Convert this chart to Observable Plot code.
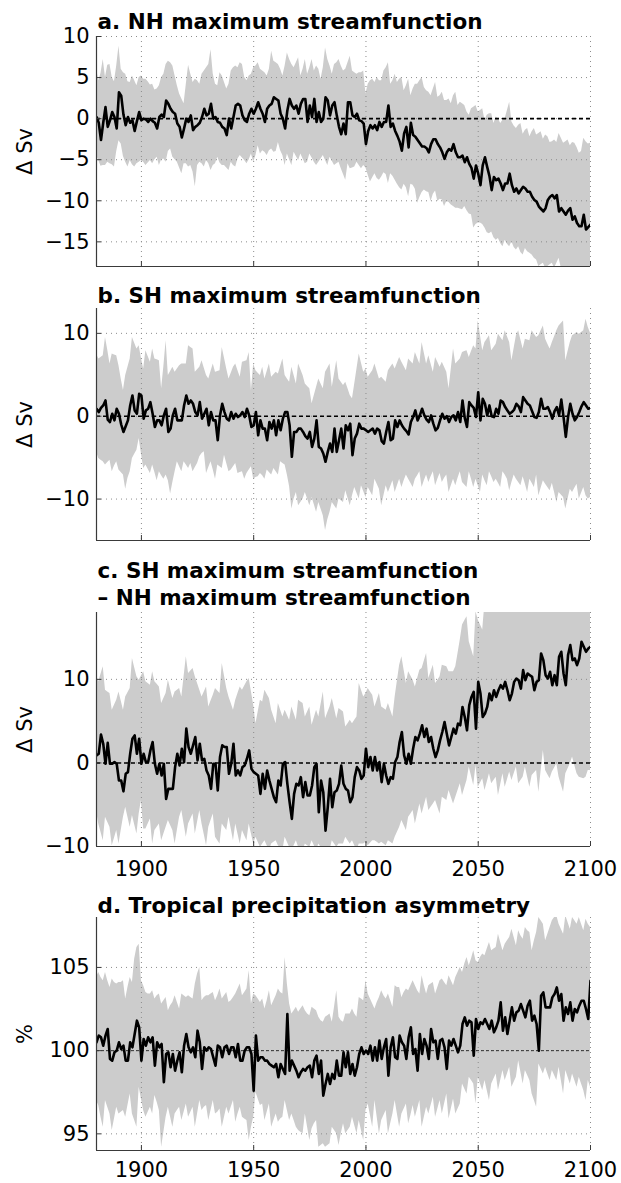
<!DOCTYPE html>
<html>
<head>
<meta charset="utf-8">
<script src="https://cdn.jsdelivr.net/npm/d3@7"></script>
<script src="https://cdn.jsdelivr.net/npm/@observablehq/plot@0.6"></script>
<style>
  body { margin: 0; background: #fff; }
  #chart { position: relative; width: 621px; height: 1183px; background: #fff; overflow: hidden; }
  #chart svg { position: absolute; left: 0; }
</style>
</head>
<body>
<div id="chart"></div>
<script>
const years = d3.range(1880, 2101);
const xTicks = [1900, 1950, 2000, 2050, 2100];

// a. NH maximum streamfunction (ΔSv)
const aLine = [
0.2,-0.5,-2.6,-0.5,1.4,-1.0,-0.2,0.8,0.2,-1.2,
3.2,2.8,0.5,-0.8,0.2,-0.5,-0.2,-1.5,-0.3,0.8,
-0.2,0.0,-0.1,-0.4,0.0,-0.3,-0.5,-1.2,0.2,0.5,
0.2,2.2,1.8,1.2,0.8,0.6,-0.6,-1.0,-2.3,-1.2,
0.0,-0.4,0.4,-1.4,-1.0,-0.8,-0.5,0.2,1.2,0.4,
0.6,1.8,0.0,0.2,-0.4,-0.5,-1.0,-1.2,-2.0,0.0,
-1.2,0.2,1.6,1.8,1.6,0.4,-0.2,-0.4,0.6,1.2,
0.6,1.2,2.0,1.2,0.6,-0.4,1.2,1.6,1.8,2.6,
2.4,2.2,0.6,0.0,-1.2,1.0,2.4,1.6,1.2,1.6,
0.6,1.8,2.4,2.4,-0.4,1.6,0.2,2.4,-0.4,0.8,
-0.4,0.0,2.6,2.2,0.4,1.6,2.0,0.4,-1.0,-1.9,
-0.6,-1.9,2.0,2.0,0.4,0.2,0.6,-0.2,-0.3,-0.6,
-3.1,-1.5,-0.8,-1.2,-0.8,-1.4,-0.4,-1.0,-0.4,-0.4,
1.6,-1.0,-0.6,-1.5,-2.1,-2.8,-3.9,-1.8,-1.0,-3.5,
-0.5,-2.0,-2.2,-2.6,-3.0,-3.4,-3.4,-3.6,-4.1,-3.1,
-2.5,-2.5,-3.1,-3.5,-4.1,-4.9,-4.1,-3.7,-3.9,-3.1,
-4.1,-4.7,-4.7,-4.5,-5.3,-4.7,-5.5,-6.0,-7.3,-5.7,
-6.7,-8.1,-5.7,-4.7,-5.9,-7.0,-8.7,-7.1,-7.5,-7.3,
-7.9,-8.7,-7.9,-7.9,-6.7,-8.1,-8.9,-8.5,-9.1,-8.7,
-8.3,-8.5,-8.9,-8.9,-9.5,-9.9,-10.1,-10.7,-11.0,-11.3,
-10.9,-9.9,-9.5,-9.3,-9.7,-9.3,-11.3,-10.9,-11.3,-11.7,
-11.2,-10.9,-12.3,-11.9,-12.7,-13.1,-13.1,-11.7,-13.5,-13.2,
-12.9];
const aHi = [
6.2,4.6,5.5,7.2,5.0,6.5,6.6,5.0,4.5,6.4,
8.8,6.0,5.6,5.4,4.5,4.4,5.2,4.6,4.0,5.0,
5.2,4.8,4.8,4.5,4.1,4.2,3.5,3.6,4.0,5.0,
5.4,6.6,7.0,6.8,6.4,5.2,4.0,3.0,2.4,1.8,
4.2,6.5,5.4,4.4,4.8,4.6,4.2,5.4,5.8,6.2,
6.6,8.4,5.4,4.2,4.0,5.6,5.2,4.4,3.6,4.2,
5.8,6.2,6.4,6.2,6.8,6.6,5.0,4.6,5.2,5.4,
6.2,6.4,6.8,6.0,5.8,5.6,5.2,6.0,8.2,7.0,
6.8,6.6,6.0,5.2,6.4,8.0,7.2,6.6,6.2,6.8,
7.4,5.2,6.0,7.2,5.4,6.2,7.2,5.8,6.4,6.0,
4.8,6.2,8.6,7.2,6.4,5.4,6.6,6.8,7.2,6.4,
5.8,6.0,6.8,7.6,5.8,5.6,5.4,5.6,5.6,5.8,
3.0,4.2,4.6,4.8,4.4,5.0,4.6,4.6,5.8,6.2,
6.8,4.2,4.6,5.4,4.4,4.8,5.0,3.4,4.0,4.8,
2.8,3.6,4.2,4.2,4.6,5.0,3.8,3.4,3.2,2.8,
3.6,4.4,2.6,2.8,3.2,2.2,2.2,2.4,1.8,2.8,
3.2,1.6,2.0,1.8,1.6,0.8,0.4,1.2,1.4,1.6,
0.8,1.0,1.2,-0.2,0.4,0.6,0.6,-0.6,0.2,0.0,
-0.6,-0.2,0.0,1.0,2.0,-0.4,-0.9,-1.2,-0.8,-0.6,
-1.9,-1.4,-1.2,-2.2,-1.6,-1.2,-2.0,-1.8,-1.6,-2.5,
-2.0,-2.2,-2.9,-2.8,-2.6,-2.9,-1.8,-2.4,-3.0,-2.8,
-2.6,-3.3,-2.9,-3.0,-3.5,-4.2,-4.0,-2.4,-2.8,-3.1,
-3.0];
const aLo = [
-4.5,-5.1,-5.8,-5.7,-5.7,-5.3,-5.5,-5.6,-5.9,-4.0,
-2.7,-3.1,-4.6,-5.3,-5.9,-5.1,-5.6,-5.9,-5.5,-5.3,
-5.1,-5.3,-5.7,-5.4,-5.1,-5.5,-5.0,-4.7,-5.7,-5.0,
-4.9,-5.3,-4.0,-3.7,-4.7,-5.0,-5.3,-6.0,-6.7,-5.5,
-5.5,-5.9,-5.7,-6.5,-8.3,-5.7,-5.3,-5.5,-5.9,-5.1,
-5.5,-6.3,-5.7,-5.5,-4.7,-5.4,-5.7,-5.7,-6.0,-6.3,
-5.3,-5.7,-5.9,-4.9,-4.5,-4.8,-5.1,-5.5,-5.0,-4.3,
-5.3,-4.5,-3.3,-4.3,-3.9,-4.1,-4.5,-3.9,-3.7,-4.1,
-4.0,-2.9,-3.9,-4.5,-5.7,-4.3,-5.0,-5.7,-4.1,-4.6,
-5.1,-4.3,-4.9,-5.5,-5.3,-4.3,-4.8,-5.3,-5.7,-5.3,
-4.9,-4.5,-5.1,-5.7,-4.7,-5.2,-5.7,-5.5,-5.3,-6.1,
-6.8,-7.5,-5.5,-6.1,-6.0,-5.9,-5.3,-5.7,-6.1,-5.7,
-6.0,-6.9,-7.7,-7.2,-6.7,-7.3,-7.5,-7.1,-6.6,-6.8,
-7.9,-6.7,-7.0,-7.5,-8.0,-8.4,-8.7,-8.0,-8.4,-9.5,
-8.0,-8.1,-8.6,-10.3,-9.6,-9.0,-8.7,-8.9,-9.0,-10.1,
-9.2,-8.8,-10.1,-9.8,-9.9,-10.7,-10.1,-10.2,-10.5,-10.7,
-10.9,-10.9,-11.0,-11.1,-10.7,-11.2,-11.6,-11.7,-13.3,-12.9,
-12.7,-12.7,-12.9,-13.3,-13.9,-14.0,-13.8,-14.5,-14.8,-14.6,
-15.2,-15.6,-14.8,-15.3,-15.6,-15.0,-15.7,-16.0,-15.6,-16.3,
-16.6,-15.8,-16.2,-16.4,-16.6,-17.0,-17.2,-18.0,-17.8,-17.6,
-18.2,-18.0,-17.8,-17.6,-18.2,-17.6,-17.0,-18.2,-18.5,-18.3,
-18.6,-18.2,-18.8,-18.4,-19.5,-20.0,-20.5,-19.8,-21.0,-20.6,
-21.0];

// b. SH maximum streamfunction (ΔSv)
const bLine = [
0.9,0.5,1.0,1.3,1.9,-0.4,-0.7,0.3,-0.5,0.9,
0.3,-1.0,-1.9,-1.2,-0.5,1.3,2.5,0.7,0.3,2.7,
2.5,-0.3,0.7,0.9,1.7,0.3,-1.3,-0.5,-0.5,-1.1,
0.1,0.9,-1.9,-1.5,0.1,0.9,-0.5,-0.5,-0.5,1.3,
2.5,1.5,1.9,1.5,0.5,0.1,1.7,-0.3,0.3,0.9,
-1.1,0.5,-0.5,-0.5,-2.9,0.1,1.5,0.5,-0.3,-0.5,
0.5,-0.3,0.3,-0.1,0.1,0.5,-0.1,0.9,0.1,-1.3,
-1.1,0.5,-2.3,-0.5,-1.5,-1.5,-2.9,-0.7,-1.5,-0.5,
-2.3,-0.5,-1.7,-0.3,0.5,0.5,-1.1,-4.9,-1.9,-1.9,
-1.5,-1.5,-1.9,-2.4,-2.7,-1.9,-3.7,-2.7,-0.5,-3.7,
-3.9,-4.5,-5.5,-4.3,-3.3,-4.3,-1.5,-4.3,-2.9,-1.5,
-3.9,-1.1,-1.7,-0.9,-4.7,-2.7,-2.1,-0.9,-1.5,-1.5,
-1.7,-1.9,-1.7,-1.5,-2.1,-1.5,-1.7,-3.0,-3.3,-1.9,
-0.7,-2.9,-2.7,-0.5,-1.3,-0.5,-1.1,-1.5,-1.8,-2.2,
-0.7,-0.1,0.7,-0.5,0.1,0.9,0.1,-0.4,-0.7,0.1,
-0.9,-1.7,-1.4,-0.5,0.3,-0.3,0.0,-0.7,-0.1,0.1,
-0.5,0.5,-0.7,1.9,-0.2,-1.3,1.7,1.3,1.0,-0.1,
2.9,-0.5,2.1,1.5,0.1,1.3,0.0,-0.1,0.9,0.3,
1.9,1.7,1.1,0.7,0.3,0.5,0.8,1.5,1.2,0.5,
2.3,1.9,1.5,1.3,0.6,-0.1,-0.2,0.5,2.1,0.9,
0.9,1.1,0.5,-0.3,0.6,1.1,0.1,2.0,-0.1,-2.5,
-0.1,1.5,0.3,-0.5,-0.1,0.5,1.2,1.7,1.3,0.9,
1.0];
const bHi = [
7.5,6.9,7.1,7.3,9.5,8.0,6.3,7.5,7.4,7.3,
6.1,4.5,3.1,4.9,5.9,6.9,9.5,8.8,8.1,8.5,
7.0,5.7,7.9,7.2,6.5,8.1,6.9,6.8,6.7,3.3,
6.0,9.1,4.9,5.4,5.9,5.3,5.7,6.1,6.3,6.3,
6.3,8.5,8.3,8.1,5.3,5.6,5.9,6.7,5.8,4.9,
4.5,5.4,6.3,5.3,5.4,5.5,8.3,7.0,5.7,4.5,
5.2,5.9,6.3,5.5,4.7,6.5,6.6,6.7,7.7,3.1,
6.3,5.5,5.2,4.9,5.9,4.5,5.4,6.3,4.7,5.0,
5.3,5.1,6.0,6.9,4.9,4.5,4.1,5.9,4.9,3.9,
6.3,5.6,4.9,3.9,3.6,3.3,1.5,2.5,3.5,4.5,
3.9,3.3,5.3,5.8,6.3,3.5,5.1,6.7,4.5,4.1,
3.7,4.1,3.3,2.5,2.1,3.9,5.7,7.5,6.4,5.3,
5.7,4.7,5.1,5.5,6.3,5.4,4.5,4.7,4.4,4.1,
5.5,5.9,6.3,5.7,6.4,7.1,6.5,6.0,5.5,6.9,
6.6,6.3,7.7,7.0,6.3,8.9,7.6,6.3,7.3,6.3,
5.3,7.1,6.5,5.9,6.5,5.9,5.3,3.3,5.7,8.1,
6.3,6.6,6.9,7.7,7.8,7.9,7.1,7.8,8.5,8.1,
11.5,9.7,7.9,8.9,9.3,9.7,7.9,8.3,8.7,9.9,
9.5,9.1,10.3,9.6,8.9,6.7,8.2,9.7,10.3,9.2,
8.1,9.3,9.2,9.1,10.3,9.9,9.5,9.7,10.3,10.9,
9.3,8.7,8.1,8.9,9.6,10.3,10.9,11.2,11.5,6.7,
7.8,8.9,9.7,9.9,10.1,9.9,10.1,10.3,11.7,10.7,
10.0];
const bLo = [
-4.3,-5.1,-5.3,-5.5,-5.9,-5.6,-5.3,-6.7,-6.0,-5.5,
-6.5,-6.8,-7.1,-8.8,-7.5,-6.7,-5.1,-4.6,-4.1,-2.7,
-4.5,-6.3,-5.9,-6.4,-6.9,-5.9,-6.8,-7.8,-6.7,-7.2,
-7.6,-7.1,-7.8,-9.4,-8.0,-6.7,-5.5,-6.1,-6.7,-5.5,
-5.9,-6.3,-5.7,-6.7,-6.2,-5.7,-4.9,-4.5,-4.3,-6.9,
-6.2,-5.5,-6.5,-7.6,-5.9,-6.1,-6.3,-4.7,-5.7,-6.7,
-6.5,-6.1,-5.7,-6.9,-6.8,-6.7,-7.6,-6.9,-6.5,-6.1,
-7.6,-7.4,-7.3,-6.9,-7.2,-7.6,-6.5,-6.8,-7.1,-6.3,
-6.7,-7.1,-5.5,-5.7,-5.9,-7.1,-8.5,-11.2,-10.0,-9.2,
-10.8,-10.4,-10.0,-9.2,-10.0,-10.8,-9.8,-10.7,-11.6,-10.4,
-11.2,-12.0,-13.8,-12.5,-11.6,-10.4,-10.8,-11.2,-10.0,-10.2,
-10.4,-9.0,-9.9,-10.8,-9.6,-8.6,-9.3,-10.0,-8.4,-9.1,
-9.8,-8.6,-9.1,-9.6,-7.6,-8.2,-8.8,-10.8,-9.6,-8.4,
-9.2,-8.5,-7.8,-9.2,-8.4,-7.6,-8.6,-7.8,-7.1,-7.6,
-8.1,-8.6,-7.6,-7.2,-6.7,-8.6,-7.8,-7.1,-8.0,-7.3,
-6.7,-8.4,-7.6,-6.9,-8.0,-7.5,-7.1,-9.2,-8.4,-7.6,
-8.4,-7.5,-6.7,-8.0,-8.3,-8.6,-6.7,-7.6,-8.6,-7.6,
-8.4,-9.2,-7.1,-7.8,-8.4,-6.7,-7.3,-8.0,-7.6,-8.1,
-8.6,-6.7,-7.1,-7.6,-9.0,-8.0,-7.1,-7.6,-8.0,-8.4,
-7.3,-8.2,-9.2,-7.6,-8.1,-8.6,-7.1,-9.6,-8.7,-7.8,
-8.2,-8.6,-9.0,-8.1,-9.2,-10.4,-9.2,-9.5,-9.8,-11.2,
-10.0,-8.8,-9.2,-8.7,-8.2,-10.0,-9.3,-8.6,-9.6,-10.0,
-9.8];

// c. SH minus NH maximum streamfunction (ΔSv)
const cLine = [
0.9,1.1,3.4,2.3,-0.1,2.4,-0.1,-0.1,0.1,-0.1,
-2.1,-2.1,-3.4,-1.3,-1.1,1.1,2.9,3.3,1.1,2.9,
-0.1,1.1,0.1,0.1,1.5,2.5,-0.1,-1.3,-0.1,-1.5,
-0.1,-4.3,-3.1,-3.1,-3.1,-0.5,1.1,-0.3,1.7,0.1,
4.1,1.9,1.1,2.1,3.1,0.3,2.3,0.3,0.5,-0.9,
-1.5,-3.1,-0.1,-0.1,-3.3,0.7,2.1,1.9,1.9,-1.3,
-0.1,2.3,-1.5,-0.9,-1.5,-0.5,-0.3,0.5,1.5,-0.7,
-1.1,-1.3,-1.5,-3.7,-1.3,-3.1,-0.9,-2.1,-3.1,-4.1,
-4.7,-2.1,-2.7,-0.1,0.1,-2.5,-4.7,-6.7,-3.7,-2.5,
-2.7,-1.7,-4.1,-2.3,-3.9,-3.9,-2.7,-0.5,-0.1,-5.9,
-2.1,-3.5,-8.1,-5.3,-1.9,-5.3,-3.5,-3.3,-2.5,-0.3,
-2.5,-3.1,-3.3,-4.7,-4.1,-1.7,-0.5,-0.9,-1.9,-1.5,
1.7,-0.5,0.7,-0.9,0.7,-0.9,0.1,-2.3,-0.1,-1.5,
-2.5,-1.7,-1.9,0.1,0.7,2.5,3.7,0.9,-0.1,1.1,
-0.1,1.7,3.1,2.7,3.5,4.5,3.1,4.1,2.5,3.1,
1.7,0.7,1.5,2.7,3.7,4.9,3.5,2.1,3.1,4.1,
3.5,4.7,4.5,6.7,5.5,3.9,6.9,7.9,8.5,4.1,
9.7,8.3,5.5,5.9,6.7,8.3,7.5,8.7,7.9,8.7,
9.3,8.9,9.7,8.7,7.5,8.3,9.7,10.1,9.9,8.9,
11.1,9.9,10.7,10.5,10.3,8.7,9.7,9.9,13.1,12.3,
10.5,10.1,10.9,9.3,10.5,9.3,12.7,13.3,10.7,9.3,
12.9,14.1,12.3,12.5,11.7,12.5,14.5,13.9,13.3,13.7,
13.9];
const cHi = [
10.5,9.7,10.6,11.5,8.7,8.5,8.3,6.3,6.9,7.5,
8.5,7.4,6.3,7.9,8.4,8.9,12.5,11.4,10.3,9.9,
10.4,10.9,9.7,9.5,9.3,10.9,9.7,9.4,9.1,7.1,
7.7,8.3,9.9,8.8,7.7,8.5,8.7,8.9,7.9,10.3,
12.7,10.7,11.0,11.3,10.3,9.5,8.7,7.9,8.5,9.1,
6.7,7.4,8.1,8.9,8.6,8.3,11.9,10.4,8.9,7.9,
7.1,6.3,7.5,8.3,9.1,8.7,9.2,9.7,10.1,8.5,
6.9,4.7,6.1,7.5,7.3,8.7,8.2,7.7,6.3,5.5,
4.7,7.1,6.3,5.5,6.3,5.7,5.1,6.7,5.9,5.1,
7.5,7.3,7.1,5.5,6.1,6.7,4.5,5.4,6.3,5.5,
7.0,8.5,5.3,6.0,6.7,7.7,6.5,5.3,6.5,6.3,
6.1,4.3,4.7,5.1,4.7,5.1,5.5,9.5,8.7,7.9,
8.3,8.9,8.5,8.1,6.7,7.5,8.3,6.7,6.5,6.3,
7.1,6.3,5.5,7.9,9.8,11.7,12.7,11.1,9.5,10.9,
10.4,9.9,9.1,10.1,11.1,11.3,12.2,13.1,10.1,10.9,
11.7,9.5,9.9,10.3,11.7,11.6,11.5,10.9,10.9,10.9,
11.5,13.1,14.7,16.5,17.0,17.5,14.5,13.6,12.7,18.1,
17.1,16.5,15.9,19.2,19.6,19.4,20.1,19.5,19.8,20.3,
19.9,20.4,19.7,20.6,20.2,19.8,20.5,20.9,20.3,21.0,
20.6,21.2,20.8,21.4,20.9,21.1,21.6,21.3,21.8,22.0,
21.5,22.1,21.7,22.4,22.0,22.3,22.7,22.2,22.9,22.5,
23.0,22.6,23.2,22.8,23.4,23.1,23.6,23.3,23.8,23.5,
23.9];
const cLo = [
-5.7,-7.3,-8.3,-9.3,-6.5,-7.1,-7.7,-9.9,-9.0,-8.1,
-9.7,-8.1,-6.5,-5.3,-6.5,-7.7,-6.3,-7.4,-8.5,-6.1,
-4.5,-7.9,-7.9,-7.3,-6.7,-9.7,-8.1,-7.7,-7.3,-9.3,
-8.5,-7.7,-6.9,-7.5,-8.1,-9.7,-8.1,-6.5,-5.7,-7.3,
-8.9,-7.3,-6.7,-6.1,-8.5,-7.1,-5.7,-7.3,-8.6,-9.9,
-7.7,-6.9,-6.1,-8.9,-9.3,-9.7,-7.3,-7.7,-8.1,-6.5,
-7.9,-9.3,-7.3,-8.5,-9.7,-8.1,-8.7,-9.3,-7.3,-8.5,
-9.7,-8.9,-9.5,-10.1,-9.7,-9.3,-9.9,-10.5,-9.7,-9.5,
-9.3,-9.9,-10.2,-10.5,-8.9,-9.5,-10.1,-10.5,-9.9,-9.3,
-10.1,-10.3,-10.5,-9.7,-9.9,-10.1,-9.3,-9.9,-10.5,-9.7,
-10.1,-10.5,-10.1,-10.3,-10.5,-9.3,-9.7,-10.1,-9.7,-9.7,
-9.7,-8.9,-9.3,-9.7,-9.3,-9.9,-10.5,-9.7,-9.7,-9.7,
-9.5,-9.9,-9.6,-9.3,-9.3,-9.5,-9.7,-9.5,-9.7,-9.9,
-9.3,-9.5,-9.7,-8.9,-8.3,-7.7,-6.9,-7.5,-8.1,-6.5,
-6.1,-5.7,-7.3,-6.1,-4.9,-6.1,-5.1,-4.1,-5.7,-5.3,
-4.9,-4.5,-5.3,-6.1,-4.1,-4.3,-4.5,-3.3,-4.1,-4.9,
-4.1,-3.3,-2.5,-3.9,-3.0,-2.1,-0.5,-1.6,-2.7,-0.3,
-2.9,-2.4,-1.9,-3.3,-2.3,-1.3,-2.5,-2.1,-1.7,-3.9,
-2.6,-1.3,-2.9,-2.0,-1.1,-2.1,-1.3,-0.5,-2.5,-2.1,
-1.7,-0.5,-1.7,-2.9,-1.5,-1.2,-0.9,-3.5,-1.0,1.5,
-0.9,-1.4,-1.9,-1.1,-0.6,-0.1,-1.7,-2.6,-3.5,-1.3,
-0.7,-0.1,0.7,-0.3,-1.3,-1.7,-1.8,-1.9,-1.7,-0.9,
-0.9];

// d. Tropical precipitation asymmetry (%)
const dLine = [
100.5,100.9,100.8,100.3,100.9,101.3,99.5,99.4,99.9,100.0,
100.5,100.1,100.3,99.4,99.4,100.5,100.2,101.0,101.8,101.4,
99.4,100.7,100.3,100.8,100.5,100.8,99.1,100.5,100.2,100.4,
98.1,99.8,99.9,99.0,99.8,98.8,99.4,99.9,98.7,100.3,
101.0,100.2,99.9,100.2,99.6,101.2,100.5,98.9,100.2,100.0,
100.2,100.1,99.6,99.1,100.3,100.2,99.6,100.2,100.3,99.8,
100.2,100.2,99.6,100.4,99.4,99.4,100.0,100.2,100.2,99.8,
97.6,100.9,99.4,99.6,99.6,99.4,99.4,99.2,99.1,99.0,
99.2,98.4,99.2,98.9,98.6,102.2,98.8,99.4,99.1,98.8,
98.4,98.7,98.9,98.8,99.0,99.1,98.4,99.4,99.7,98.6,
99.4,97.3,98.0,98.6,98.0,98.6,98.3,99.4,98.5,98.5,
99.9,99.0,99.9,98.6,99.2,98.5,99.0,99.8,100.2,99.8,
100.0,99.8,100.3,99.4,100.2,99.4,100.6,99.5,100.2,100.7,
98.5,100.2,100.8,99.6,99.5,100.9,100.5,100.3,99.5,100.8,
101.4,99.8,100.1,98.8,101.0,99.8,100.7,100.3,99.5,101.3,
100.5,100.6,99.5,100.6,100.7,100.2,98.9,100.6,100.3,100.7,
100.3,99.9,100.3,101.6,102.0,101.5,101.8,101.7,99.7,101.9,
101.3,101.7,101.6,101.9,101.6,101.3,101.8,101.1,101.4,101.8,
102.9,101.2,102.0,101.0,101.8,102.6,101.8,102.3,102.4,102.8,
102.4,102.0,102.7,103.0,101.8,102.1,101.6,100.0,103.3,103.5,
102.6,102.6,102.6,103.2,103.4,103.8,103.0,103.4,101.8,102.6,
102.2,102.9,101.8,102.5,102.3,102.7,103.0,103.0,102.5,101.9,
104.2];
const dHi = [
104.4,104.7,104.4,104.2,104.7,104.2,103.8,104.3,104.1,104.0,
104.1,104.1,104.2,103.1,103.8,104.4,104.1,105.5,106.2,106.4,
104.2,103.9,103.5,103.4,103.4,103.6,103.1,103.3,103.4,102.8,
103.0,103.2,102.4,102.7,102.9,103.3,102.9,102.5,103.4,103.3,
103.2,103.3,103.2,103.1,104.0,104.6,105.0,103.0,103.2,103.3,
103.3,103.4,103.5,103.0,103.3,103.7,103.1,103.3,103.5,102.9,
103.0,103.2,103.4,103.7,104.0,103.3,103.5,103.7,104.8,102.8,
103.4,103.3,103.1,102.9,103.1,102.5,103.0,103.6,102.7,103.0,
103.3,103.7,103.5,103.4,105.6,104.0,102.8,102.2,102.4,102.6,
102.3,102.5,102.7,102.4,102.2,102.1,102.6,102.5,102.4,102.0,
101.8,101.7,102.0,102.1,102.2,101.7,102.6,103.6,102.0,101.8,
101.7,102.2,102.2,102.2,102.5,102.2,102.0,103.2,103.1,103.0,
104.2,103.4,103.1,102.8,102.5,102.9,103.2,103.6,103.3,103.1,
103.4,103.0,102.6,103.9,103.8,103.8,103.2,103.5,103.7,103.6,
103.9,104.2,103.9,103.6,103.4,104.5,103.9,103.4,103.9,104.0,
104.1,103.4,103.8,104.2,104.3,104.1,103.9,104.5,104.2,103.9,
104.4,104.7,105.0,104.7,105.2,105.6,105.1,105.5,106.0,105.4,
105.3,105.6,105.8,105.7,106.1,106.5,106.0,106.1,106.2,107.0,
106.5,106.0,106.4,106.6,106.8,107.3,106.8,106.3,107.2,106.9,
106.7,107.4,107.2,107.1,106.0,106.6,107.1,108.0,107.8,107.6,
106.6,107.0,107.4,107.8,108.0,108.1,107.6,107.3,107.0,108.1,
107.7,107.3,108.0,107.8,107.6,108.0,107.6,107.2,107.9,107.6,
107.4];
const dLo = [
97.0,96.7,96.0,95.4,97.0,96.6,96.2,95.2,95.9,96.6,
96.2,96.3,96.4,96.0,96.7,97.4,96.2,95.8,95.4,97.8,
97.1,96.4,96.0,96.3,96.6,96.2,97.3,96.9,96.4,94.2,
95.1,96.0,96.6,96.0,95.4,96.2,96.4,96.6,95.8,96.3,
96.8,96.0,96.3,96.6,95.4,96.2,97.0,96.4,96.6,96.7,
95.8,96.4,97.0,96.2,96.3,96.5,95.4,96.0,96.6,96.2,
96.6,97.0,95.7,96.2,96.6,96.0,95.9,95.8,94.6,95.4,
96.0,97.5,97.1,96.7,96.8,95.8,96.3,96.8,95.4,95.8,
96.2,95.7,95.9,96.0,97.0,96.4,95.8,96.2,95.8,95.4,
95.2,95.1,95.0,96.2,95.4,94.6,95.3,95.6,95.8,94.2,
94.3,94.4,94.2,94.3,94.4,95.4,95.2,95.0,94.3,95.0,
95.6,95.0,95.2,95.4,96.0,95.5,95.0,95.8,95.2,94.6,
96.4,96.8,96.1,95.4,97.0,96.0,95.0,95.8,96.1,96.4,
95.0,95.6,96.2,97.0,96.2,95.4,96.2,96.5,96.8,95.6,
96.1,96.7,96.0,96.5,97.0,95.4,96.0,96.6,96.2,96.7,
97.2,96.0,96.5,97.0,96.2,96.8,97.4,95.9,96.5,97.1,
96.2,96.5,96.8,98.0,97.7,97.4,98.4,98.2,98.0,96.8,
98.4,98.0,97.6,98.2,97.6,97.0,98.0,98.3,98.6,97.6,
98.2,98.8,98.2,98.6,99.0,97.8,98.1,98.4,99.4,98.7,
98.0,98.8,98.5,98.2,97.4,97.0,96.6,99.2,98.9,98.6,
99.0,98.6,98.2,98.8,98.5,98.2,99.0,98.2,97.4,98.8,
98.4,98.0,98.6,98.2,97.8,98.4,98.0,97.6,97.0,98.2,
97.8];

const panels = [
  {title: "a. NH maximum streamfunction", ylabel: "Δ Sv", line: aLine, hi: aHi, lo: aLo,
   domain: [-18, 10], ticks: [-15, -10, -5, 0, 5, 10], ref: 0, refThin: false,
   top: 0, mt: 36, ph: 230, mb: 6, titleDy: -8, xLabels: false},
  {title: "b. SH maximum streamfunction", ylabel: "Δ Sv", line: bLine, hi: bHi, lo: bLo,
   domain: [-15, 13], ticks: [-10, 0, 10], ref: 0, refThin: false,
   top: 272, mt: 36, ph: 232, mb: 6, titleDy: -6, xLabels: false},
  {title: "c. SH maximum streamfunction\n– NH maximum streamfunction", ylabel: "Δ Sv", line: cLine, hi: cHi, lo: cLo,
   domain: [-10, 18], ticks: [-10, 0, 10], ref: 0, refThin: false,
   top: 546, mt: 66, ph: 234, mb: 40, titleDy: -8, xLabels: true, xPad: 15},
  {title: "d. Tropical precipitation asymmetry", ylabel: "%", line: dLine, hi: dHi, lo: dLo,
   domain: [94, 108], ticks: [95, 100, 105], ref: 100, refThin: true,
   top: 886, mt: 31, ph: 233, mb: 33, titleDy: -5, xLabels: true, xPad: 12}
];

const W = 621, ML = 96, MR = 31;
const plotW = W - ML - MR;
const fmt = d => (d < 0 ? "\u2212" + Math.abs(d) : String(d));
const chart = document.getElementById("chart");

for (const p of panels) {
  const data = years.map((year, i) => ({year, v: p.line[i], lo: p.lo[i], hi: p.hi[i]}));
  const marks = [
    Plot.areaY(data, {x: "year", y1: "lo", y2: "hi", fill: "#cccccc", clip: true}),
    Plot.ruleX(xTicks, {x: d => d, stroke: "#8c8c8c", strokeWidth: 1, strokeDasharray: "1,4"}),
    Plot.ruleY(p.ticks, {y: d => d, stroke: "#8c8c8c", strokeWidth: 1, strokeDasharray: "1,4"}),
    Plot.ruleY([p.ref], {y: d => d, stroke: p.refThin ? "#333" : "#000",
      strokeWidth: p.refThin ? 1 : 1.6, strokeDasharray: p.refThin ? "3,2" : "4,3"}),
    Plot.lineY(data, {x: "year", y: "v", stroke: "#000", strokeWidth: 2.6, clip: true}),
    Plot.ruleX([p.domain.length ? 1880 : 1880], {x: d => d, stroke: "#3a3a3a", strokeWidth: 1.2}),
    Plot.ruleY([p.domain[0]], {y: d => d, stroke: "#3a3a3a", strokeWidth: 1.2}),
    Plot.tickX(xTicks, {x: d => d, stroke: "#3a3a3a", insetTop: p.ph - 5}),
    Plot.tickY(p.ticks, {y: d => d, stroke: "#3a3a3a", insetRight: plotW - 5}),
    Plot.axisY({ticks: p.ticks, tickSize: 0, tickPadding: 7, tickFormat: fmt, label: null, fontSize: 21}),
    Plot.text([p.ylabel], {text: d => d, frameAnchor: "left", dx: -71, rotate: -90,
      textAnchor: "middle", lineAnchor: "middle", fontSize: 21}),
    Plot.text([p.title], {text: d => d, frameAnchor: "top-left", dx: 1, dy: p.titleDy,
      textAnchor: "start", lineAnchor: "bottom", fontWeight: "bold", fontSize: 21.5, lineHeight: 1.256})
  ];
  if (p.xLabels) {
    marks.push(Plot.axisX({ticks: xTicks, tickSize: 0, tickPadding: p.xPad,
      tickFormat: d => String(d), label: null, fontSize: 21}));
  }
  const svg = Plot.plot({
    width: W,
    height: p.mt + p.ph + p.mb,
    marginLeft: ML, marginRight: MR, marginTop: p.mt, marginBottom: p.mb,
    x: {domain: [1880, 2100], axis: null},
    y: {domain: p.domain, axis: null},
    style: {fontFamily: "'DejaVu Sans', sans-serif", fontSize: "21px", color: "#000",
      background: "transparent", overflow: "visible"},
    marks
  });
  svg.style.top = p.top + "px";
  chart.appendChild(svg);
}
</script>
</body>
</html>
